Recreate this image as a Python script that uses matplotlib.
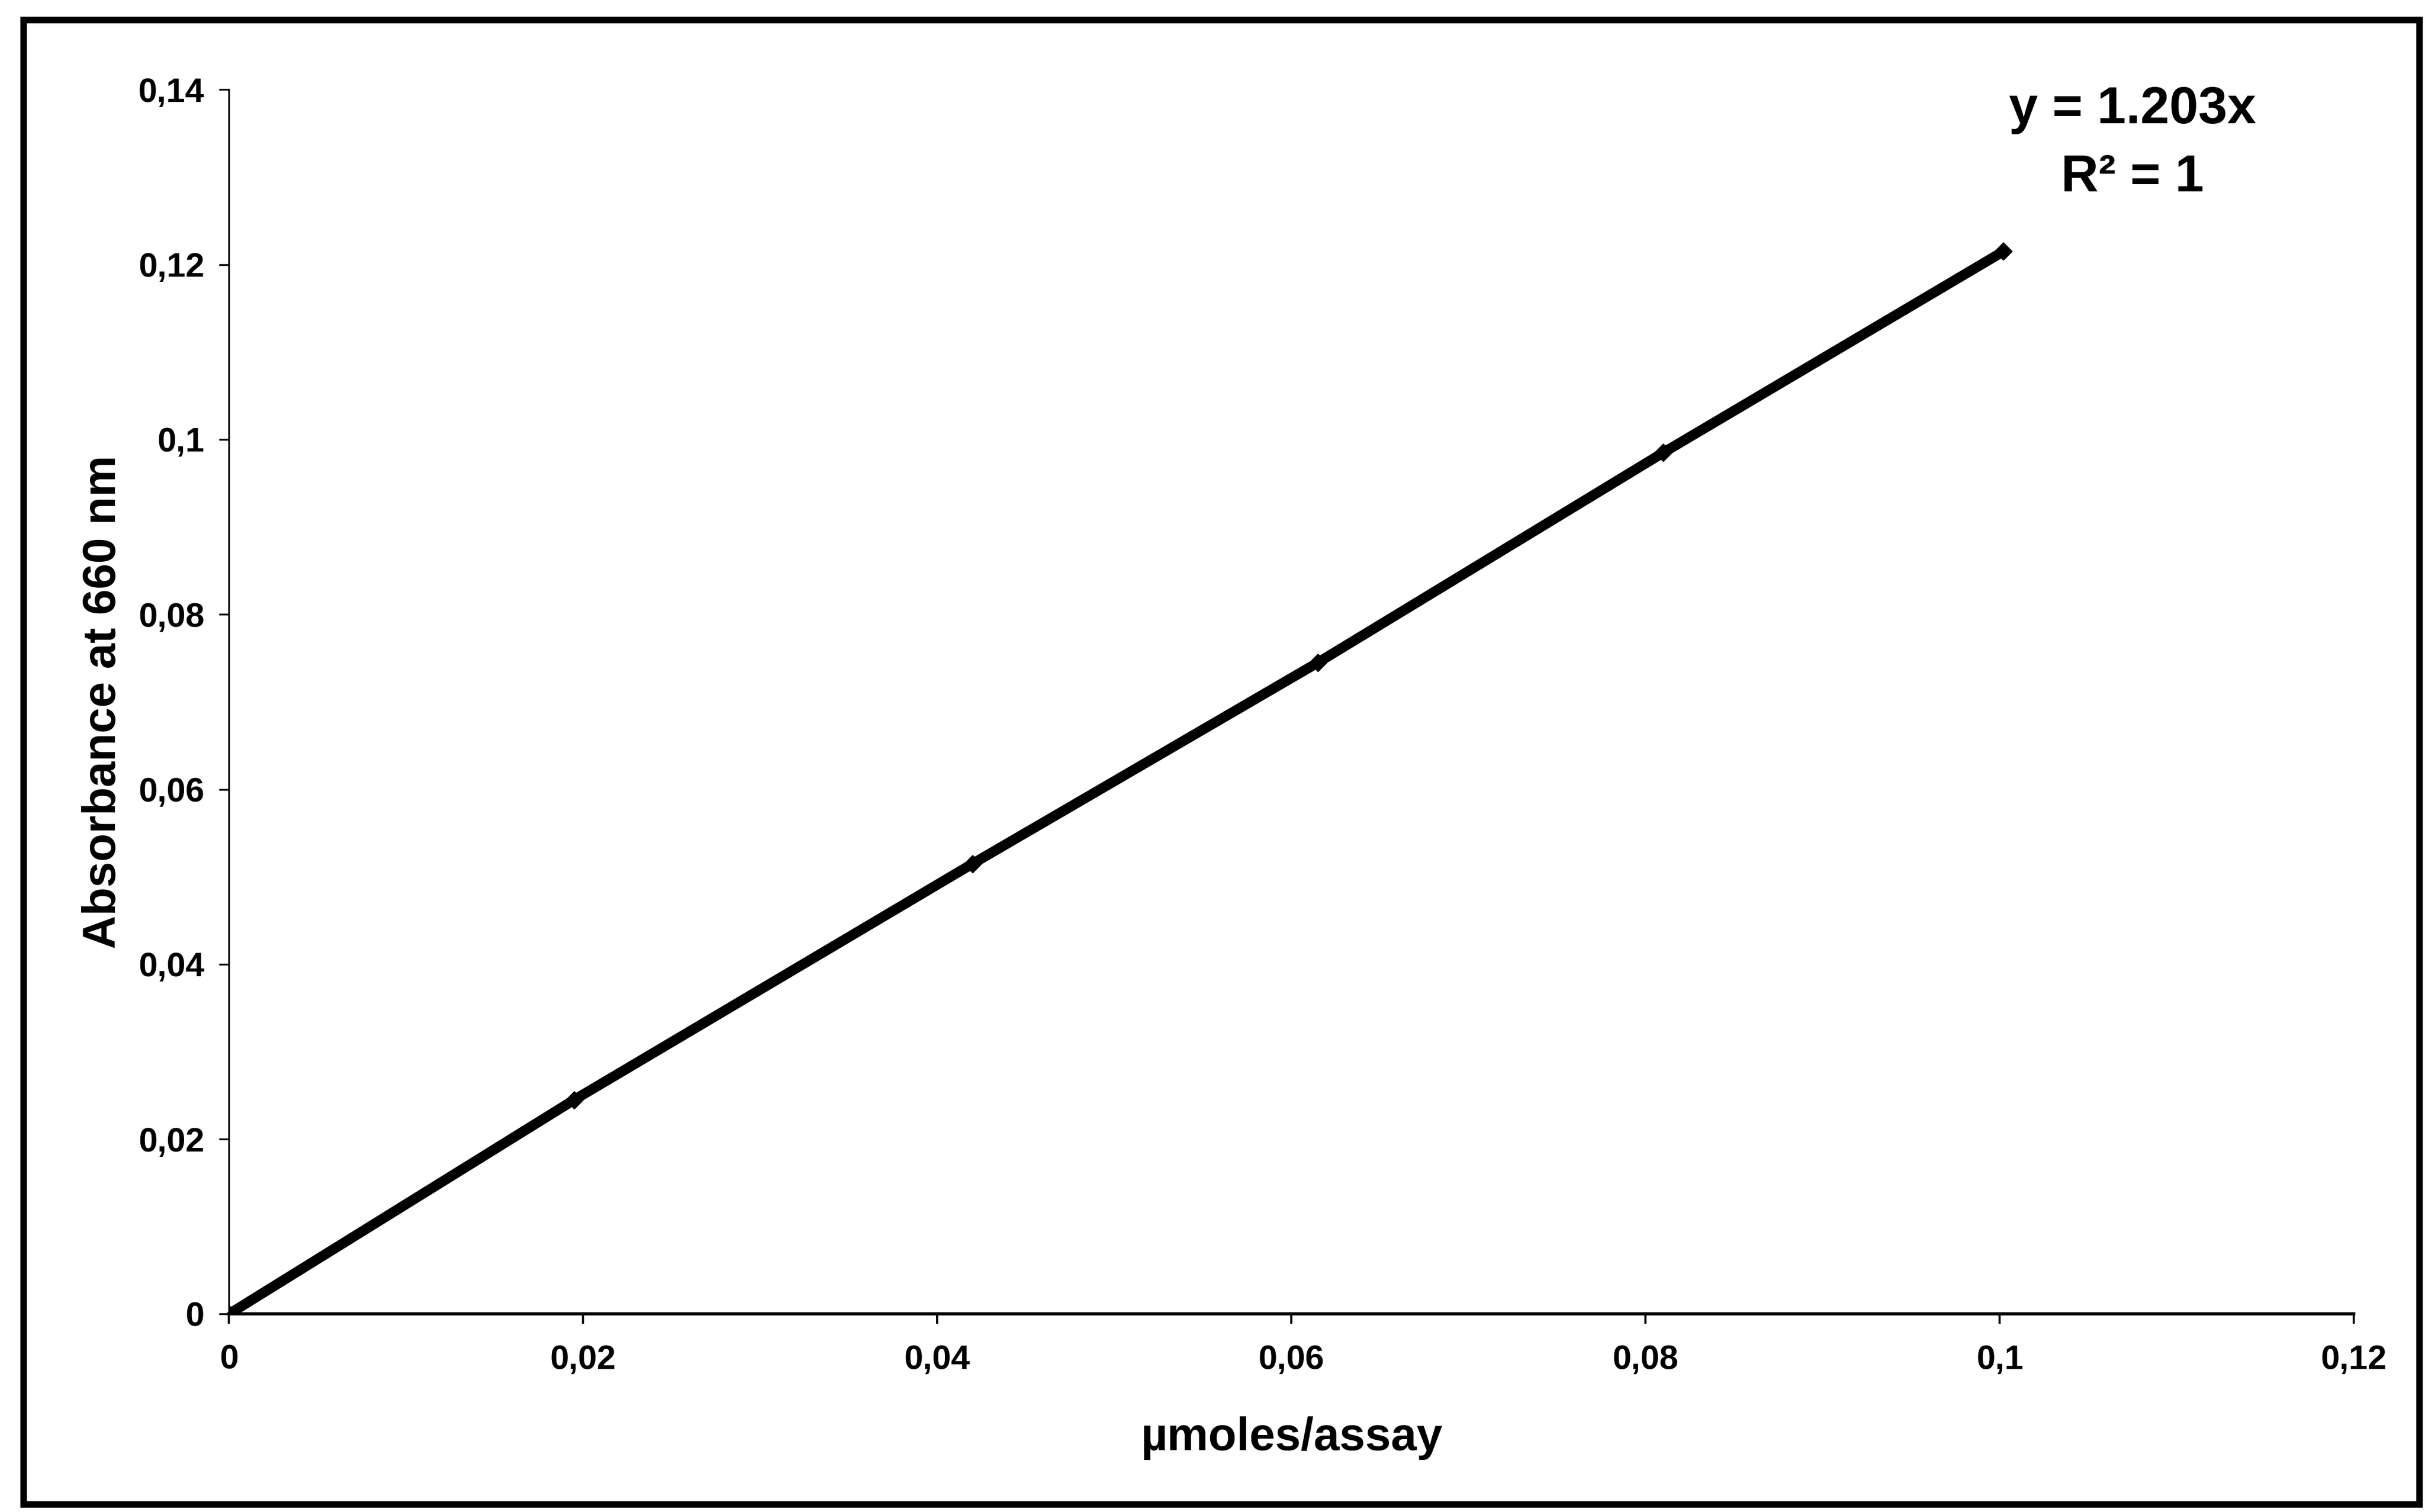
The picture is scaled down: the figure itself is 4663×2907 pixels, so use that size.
import matplotlib
matplotlib.use("Agg")
import matplotlib.pyplot as plt
from matplotlib.patches import Rectangle
from matplotlib.ticker import FixedLocator, FixedFormatter

# calibration points
umoles = [0, 0.0195, 0.042, 0.0615, 0.081, 0.1002]
absorbance = [0, 0.0245, 0.0515, 0.0745, 0.0985, 0.1215]

x_ticks = [0, 0.02, 0.04, 0.06, 0.08, 0.1, 0.12]
x_ticklabels = ["0", "0,02", "0,04", "0,06", "0,08", "0,1", "0,12"]
y_ticks = [0, 0.02, 0.04, 0.06, 0.08, 0.1, 0.12, 0.14]
y_ticklabels = ["0", "0,02", "0,04", "0,06", "0,08", "0,1", "0,12", "0,14"]

fit_text = "y = 1.203x\nR² = 1"

plt.rcParams["font.family"] = ["Liberation Sans", "DejaVu Sans"]
plt.rcParams["font.weight"] = "bold"

fig = plt.figure(figsize=(46.63, 29.07), dpi=100)
ax = fig.add_axes([0.0944, 0.1309, 0.8763, 0.8098])

# outer chart border
fig.patches.append(Rectangle((0.0096, 0.005), 0.988, 0.982, transform=fig.transFigure,
                             fill=False, edgecolor="black", linewidth=9))

ax.plot(umoles, absorbance, color="black", linewidth=14, marker="D",
        markersize=17, solid_capstyle="round")

ax.set_xlim(0, 0.12)
ax.set_ylim(0, 0.14)
ax.xaxis.set_major_locator(FixedLocator(x_ticks))
ax.xaxis.set_major_formatter(FixedFormatter(x_ticklabels))
ax.yaxis.set_major_locator(FixedLocator(y_ticks))
ax.yaxis.set_major_formatter(FixedFormatter(y_ticklabels))

for side in ["top", "right"]:
    ax.spines[side].set_visible(False)
ax.spines["left"].set_linewidth(2.5)
ax.spines["bottom"].set_linewidth(4.5)

ax.tick_params(axis="y", direction="out", length=14, width=2.5, labelsize=47, pad=20)
ax.tick_params(axis="x", direction="out", length=14, width=3, labelsize=47, pad=28)
for lbl in ax.get_xticklabels() + ax.get_yticklabels():
    lbl.set_fontweight("bold")

ax.set_xlabel("µmoles/assay", fontsize=64, fontweight="bold", labelpad=56)
ax.set_ylabel("Absorbance at 660 nm", fontsize=64, fontweight="bold", labelpad=18)

ax.text(0.1075, 0.1338, fit_text, ha="center", va="center", fontsize=72,
        fontweight="bold", linespacing=1.5)

fig.savefig("out.png", dpi=100, facecolor="white")
